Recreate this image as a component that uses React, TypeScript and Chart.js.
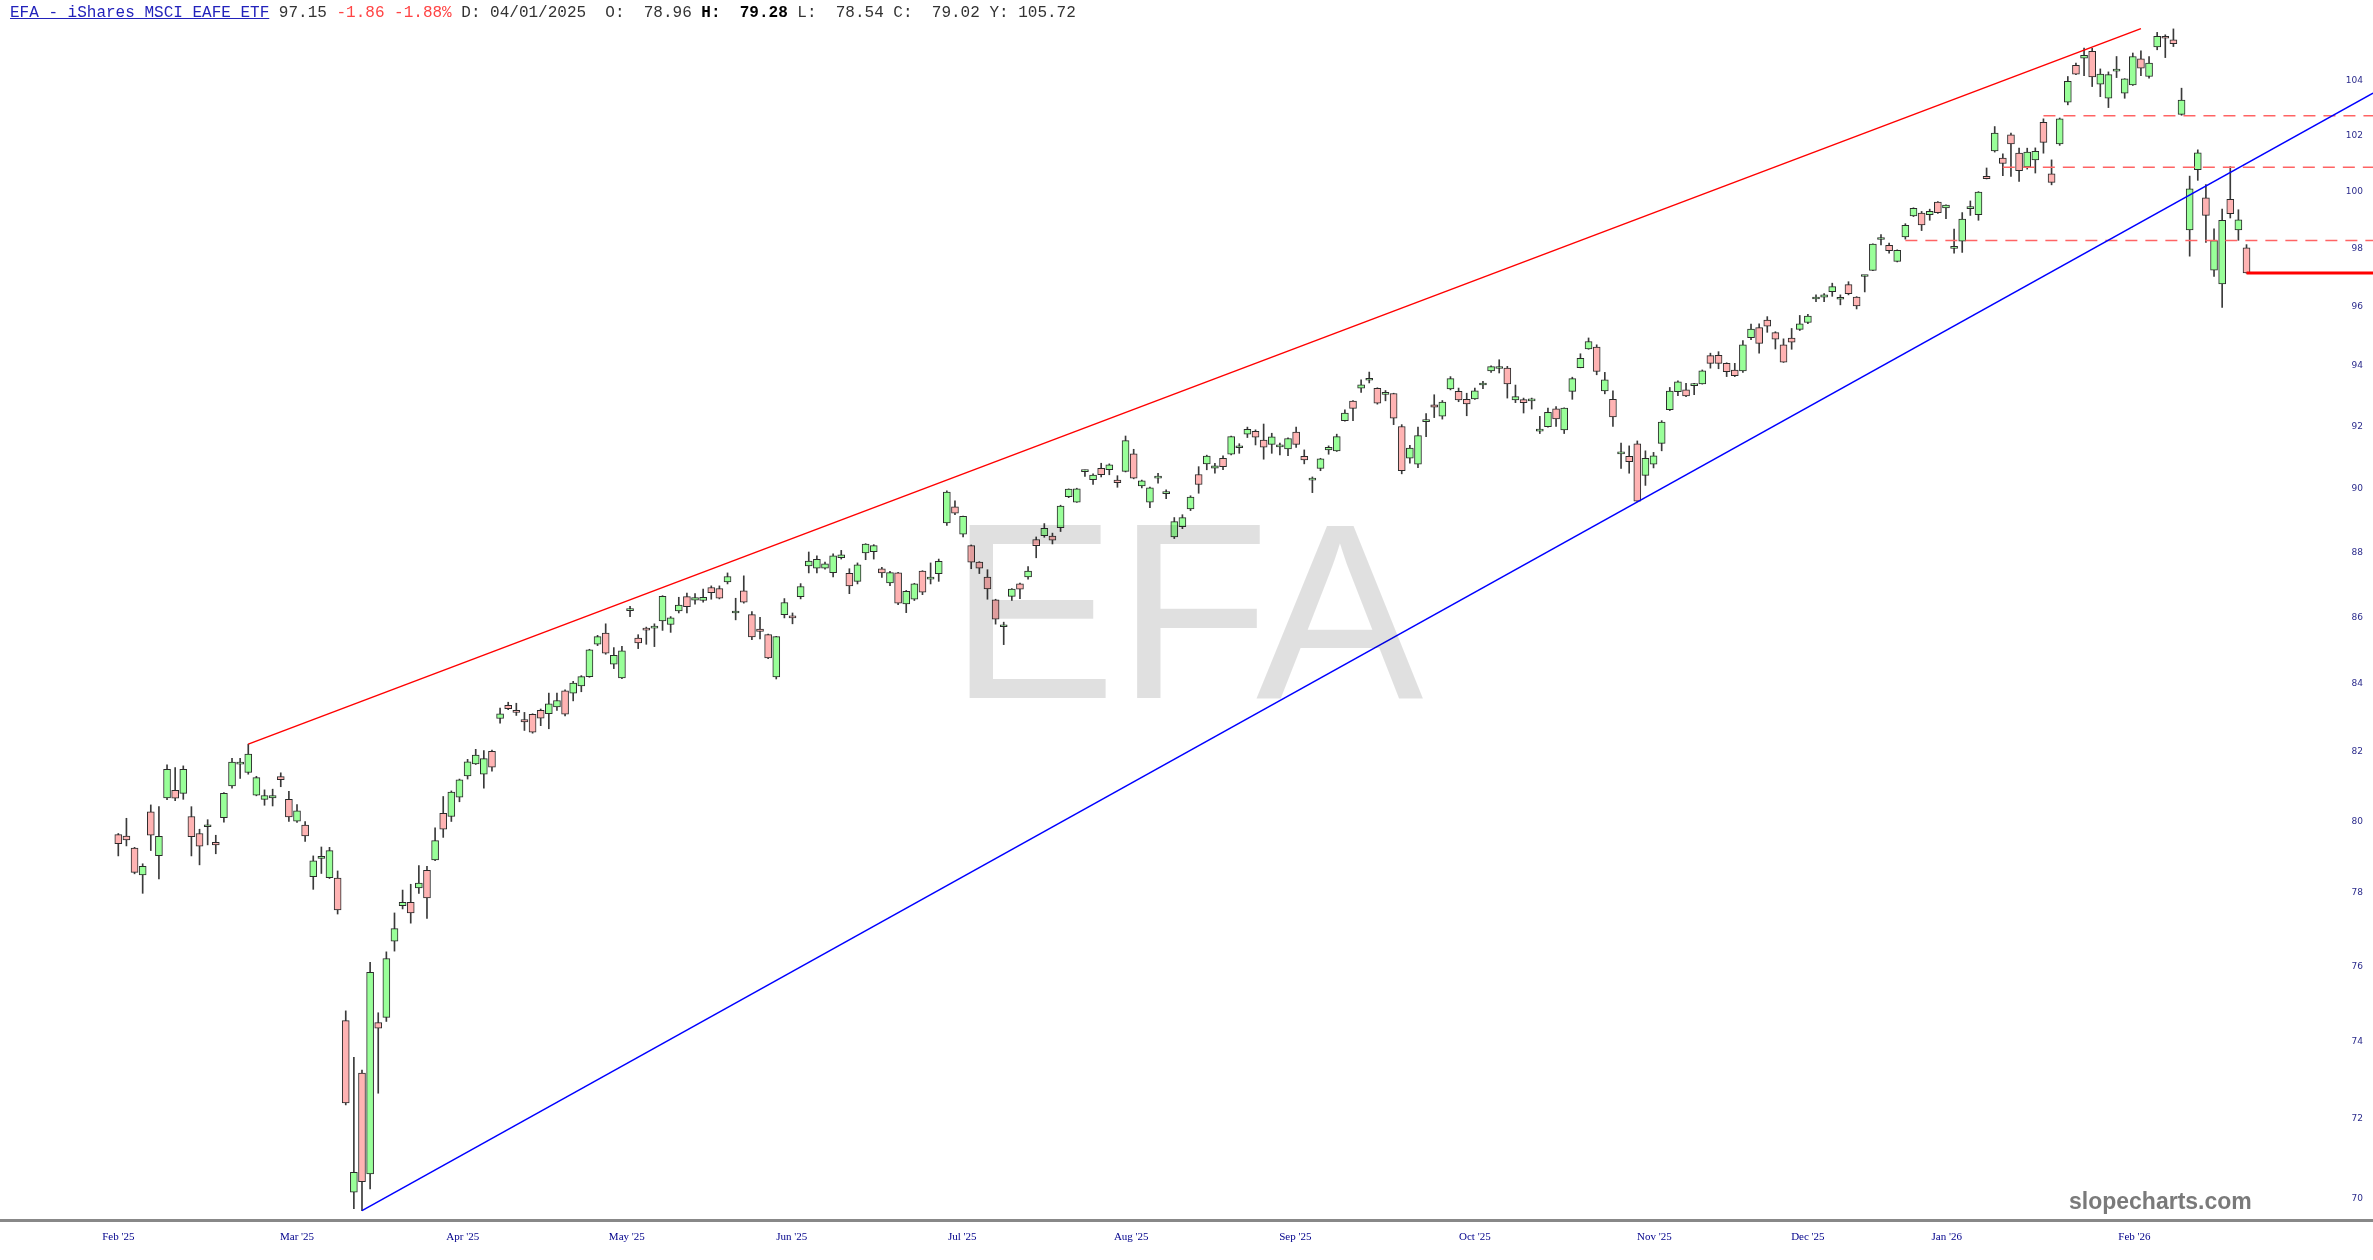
import React, { useEffect, useRef } from 'react';
import { Chart, registerables } from 'chart.js';

Chart.register(...registerables);

// ---- data ----
const opens = [
  79.63, 79.59, 79.25, 78.50, 80.27, 79.04, 80.67, 80.89, 80.80, 80.14,
  79.66, 79.85, 79.41, 80.11, 81.01, 81.64, 81.40, 80.75, 80.63, 80.67,
  81.28, 80.63, 80.01, 79.90, 78.45, 78.96, 78.42, 78.41, 74.55, 70.16,
  73.18, 70.61, 74.50, 74.64, 76.68, 77.65, 77.74, 78.14, 78.63, 78.92,
  80.23, 80.14, 80.69, 81.30, 81.65, 81.35, 82.01, 82.97, 83.36, 83.21,
  82.94, 83.09, 83.21, 83.11, 83.31, 83.79, 83.72, 83.93, 84.21, 85.18,
  85.52, 84.58, 84.17, 86.20, 85.37, 85.66, 85.67, 85.89, 85.78, 86.19,
  86.63, 86.52, 86.51, 86.91, 86.88, 87.08, 86.13, 86.81, 86.08, 85.64,
  85.47, 84.20, 86.08, 86.00, 86.63, 87.58, 87.51, 87.51, 87.37, 87.83,
  87.35, 87.10, 87.98, 88.02, 87.49, 87.05, 87.36, 86.41, 86.55, 87.42,
  87.17, 87.34, 88.92, 89.43, 88.57, 88.21, 87.70, 87.23, 86.53, 85.71,
  86.64, 87.02, 87.24, 88.40, 88.52, 88.51, 88.77, 89.75, 89.58, 90.55,
  90.29, 90.66, 90.61, 90.28, 90.56, 91.12, 90.09, 89.58, 90.34, 89.85,
  88.48, 88.80, 89.36, 90.46, 90.80, 90.66, 90.98, 91.11, 91.32, 91.76,
  91.85, 91.57, 91.43, 91.35, 91.28, 91.83, 91.04, 90.28, 90.65, 91.25,
  91.22, 92.20, 92.84, 93.27, 93.53, 93.26, 93.06, 93.09, 92.01, 90.98,
  90.79, 92.17, 92.72, 92.35, 93.24, 93.16, 92.90, 92.91, 93.37, 93.84,
  93.92, 93.93, 92.88, 92.89, 92.85, 91.86, 92.00, 92.59, 91.90, 93.16,
  93.95, 94.57, 94.63, 93.18, 92.90, 91.12, 91.04, 91.45, 90.43, 90.79,
  91.46, 92.56, 93.15, 93.21, 93.35, 93.41, 94.35, 94.36, 94.09, 93.87,
  93.84, 94.95, 95.29, 95.54, 95.12, 94.71, 94.94, 95.23, 95.46, 96.26,
  96.32, 96.51, 96.25, 96.75, 96.32, 97.03, 97.24, 98.31, 98.11, 97.55,
  98.40, 99.13, 99.23, 99.18, 99.62, 99.41, 98.00, 98.25, 99.39, 99.18,
  100.53, 101.44, 101.18, 102.02, 101.36, 100.87, 101.12, 102.47, 100.62, 101.69,
  103.21, 104.56, 104.83, 105.08, 103.87, 103.35, 104.35, 103.54, 103.84, 104.80,
  104.15, 105.25, 105.63, 105.51, 102.76, 98.64, 100.77, 99.77, 97.25, 96.77,
  99.72, 98.64, 98.02,
];

const highs = [
  79.66, 80.09, 79.27, 78.81, 80.47, 80.42, 81.62, 81.54, 81.59, 80.42,
  79.78, 80.05, 79.61, 80.82, 81.81, 81.81, 82.22, 81.29, 80.90, 80.92,
  81.39, 80.86, 80.48, 80.00, 79.03, 79.28, 79.27, 78.61, 74.81, 73.59,
  73.26, 76.11, 74.76, 76.39, 77.45, 78.08, 78.24, 78.76, 78.74, 79.82,
  80.71, 80.87, 81.21, 81.78, 82.07, 82.03, 82.05, 83.28, 83.45, 83.42,
  83.15, 83.11, 83.25, 83.72, 83.72, 83.82, 84.07, 84.24, 85.03, 85.45,
  85.80, 85.08, 85.12, 86.33, 85.47, 85.70, 85.80, 86.66, 86.02, 86.61,
  86.74, 86.72, 86.86, 86.96, 86.96, 87.36, 86.58, 87.27, 86.17, 86.00,
  85.49, 85.42, 86.57, 86.13, 87.03, 88.01, 87.89, 87.70, 87.95, 88.06,
  87.49, 87.67, 88.27, 88.24, 87.53, 87.41, 87.38, 86.82, 87.04, 87.43,
  87.67, 87.79, 89.94, 89.62, 89.14, 88.23, 87.71, 87.46, 86.55, 85.85,
  86.88, 87.05, 87.56, 88.48, 88.90, 88.60, 89.48, 90.00, 90.02, 90.60,
  90.48, 90.82, 90.80, 90.42, 91.70, 91.27, 90.28, 90.06, 90.50, 89.97,
  89.09, 89.18, 89.78, 90.71, 91.08, 90.82, 91.06, 91.70, 91.45, 91.99,
  91.90, 92.09, 91.79, 91.47, 91.64, 91.99, 91.25, 90.38, 90.98, 91.38,
  91.76, 92.55, 92.86, 93.54, 93.80, 93.28, 93.19, 93.10, 92.07, 91.40,
  91.99, 92.43, 93.05, 92.86, 93.65, 93.27, 93.10, 93.27, 93.49, 94.01,
  94.21, 93.99, 93.37, 92.94, 92.94, 92.34, 92.61, 92.66, 92.62, 93.63,
  94.41, 94.94, 94.71, 93.79, 93.18, 91.47, 91.38, 91.54, 91.22, 91.17,
  92.20, 93.29, 93.51, 93.43, 93.43, 93.87, 94.43, 94.48, 94.11, 94.09,
  94.85, 95.41, 95.42, 95.66, 95.15, 94.91, 95.26, 95.70, 95.74, 96.40,
  96.44, 96.80, 96.40, 96.85, 96.34, 97.07, 98.16, 98.48, 98.18, 97.95,
  98.86, 99.42, 99.29, 99.37, 99.64, 99.52, 98.67, 99.25, 99.66, 99.99,
  100.83, 102.32, 101.34, 102.08, 101.54, 101.54, 101.55, 102.60, 101.12, 102.63,
  104.15, 104.65, 105.20, 105.20, 104.43, 104.32, 104.89, 104.07, 105.02, 105.10,
  104.89, 105.79, 105.70, 105.92, 103.72, 100.54, 101.48, 100.24, 98.68, 99.37,
  100.88, 99.35, 98.13,
];

const lows = [
  79.03, 79.31, 78.53, 77.99, 79.18, 78.39, 80.62, 80.59, 80.63, 79.03,
  78.78, 79.34, 79.09, 79.98, 80.95, 81.23, 81.35, 80.73, 80.46, 80.44,
  80.99, 80.00, 79.97, 79.44, 78.10, 78.54, 78.40, 77.42, 72.36, 69.75,
  69.70, 70.24, 72.66, 74.53, 76.41, 77.56, 77.17, 77.99, 77.30, 78.90,
  79.55, 80.00, 80.56, 81.21, 81.63, 80.95, 81.44, 82.83, 83.23, 83.06,
  82.62, 82.54, 82.76, 82.67, 83.21, 83.05, 83.49, 83.76, 84.19, 85.14,
  84.88, 84.45, 84.15, 86.02, 85.05, 85.18, 85.11, 85.60, 85.54, 86.13,
  86.13, 86.40, 86.46, 86.55, 86.56, 87.02, 85.92, 86.43, 85.32, 85.34,
  84.75, 84.14, 85.98, 85.80, 86.56, 87.36, 87.36, 87.48, 87.24, 87.79,
  86.72, 87.02, 87.77, 87.79, 87.22, 86.97, 86.38, 86.14, 86.51, 86.69,
  87.02, 87.10, 88.84, 89.18, 88.48, 87.49, 87.34, 86.55, 85.79, 85.17,
  86.51, 86.57, 87.17, 87.83, 88.47, 88.26, 88.65, 89.72, 89.57, 90.40,
  90.14, 90.38, 90.45, 90.05, 90.54, 90.32, 90.03, 89.40, 90.18, 89.69,
  88.43, 88.74, 89.31, 89.86, 90.61, 90.50, 90.61, 91.09, 91.14, 91.65,
  91.41, 90.95, 91.14, 91.09, 91.06, 91.33, 90.80, 89.88, 90.58, 91.11,
  91.20, 92.18, 92.20, 93.13, 93.44, 92.74, 92.85, 92.07, 90.48, 90.82,
  90.68, 91.68, 92.30, 92.25, 93.21, 92.82, 92.36, 92.90, 93.25, 93.79,
  93.77, 92.94, 92.79, 92.45, 92.58, 91.78, 91.99, 92.01, 91.78, 92.90,
  93.94, 94.56, 93.71, 93.08, 92.01, 90.65, 90.50, 89.59, 90.11, 90.67,
  91.22, 92.53, 93.02, 92.99, 93.05, 93.40, 93.93, 93.91, 93.65, 93.65,
  93.79, 94.88, 94.43, 95.13, 94.57, 94.12, 94.56, 95.19, 95.42, 96.17,
  96.17, 96.35, 96.06, 96.40, 95.92, 96.50, 97.23, 98.12, 97.83, 97.53,
  98.32, 99.11, 98.62, 98.98, 99.22, 99.04, 97.83, 97.86, 99.15, 98.98,
  100.44, 101.40, 100.56, 100.53, 100.35, 100.79, 100.65, 101.36, 100.23, 101.64,
  103.11, 104.22, 104.18, 103.78, 103.41, 103.01, 104.11, 103.35, 103.82, 104.18,
  104.09, 105.14, 104.85, 105.26, 102.73, 97.73, 100.39, 98.21, 97.03, 95.97,
  99.06, 98.28, 97.14,
];

const closes = [
  79.37, 79.48, 78.57, 78.74, 79.61, 79.58, 81.49, 80.66, 81.49, 79.57,
  79.30, 79.87, 79.34, 80.80, 81.70, 81.70, 81.93, 81.25, 80.74, 80.74,
  81.19, 80.13, 80.30, 79.59, 78.89, 79.02, 79.18, 77.53, 72.41, 70.65,
  70.42, 75.84, 74.35, 76.21, 77.02, 77.74, 77.45, 78.27, 77.86, 79.46,
  79.78, 80.84, 81.19, 81.71, 81.90, 81.80, 81.55, 83.11, 83.26, 83.15,
  82.87, 82.57, 82.98, 83.40, 83.50, 83.10, 84.02, 84.21, 85.01, 85.41,
  84.91, 84.85, 84.98, 86.22, 85.22, 85.61, 85.73, 86.64, 85.98, 86.37,
  86.32, 86.60, 86.61, 86.75, 86.58, 87.25, 86.15, 86.46, 85.40, 85.57,
  84.77, 85.41, 86.45, 85.98, 86.94, 87.73, 87.78, 87.64, 87.89, 87.92,
  86.96, 87.61, 88.26, 88.21, 87.36, 87.37, 86.43, 86.79, 87.02, 86.77,
  87.23, 87.72, 89.90, 89.23, 89.13, 87.69, 87.51, 86.87, 85.94, 85.73,
  86.86, 86.86, 87.42, 88.21, 88.75, 88.38, 89.45, 89.99, 90.00, 90.57,
  90.44, 90.45, 90.77, 90.20, 91.55, 90.34, 90.26, 90.03, 90.36, 89.87,
  88.96, 89.09, 89.74, 90.14, 91.05, 90.74, 90.71, 91.68, 91.34, 91.92,
  91.66, 91.34, 91.67, 91.37, 91.62, 91.43, 90.93, 90.30, 90.96, 91.33,
  91.68, 92.45, 92.60, 93.38, 93.59, 92.77, 93.08, 92.28, 90.58, 91.31,
  91.71, 92.19, 92.64, 92.81, 93.58, 92.88, 92.75, 93.18, 93.39, 93.98,
  93.94, 93.41, 92.99, 92.79, 92.87, 91.88, 92.47, 92.26, 92.61, 93.58,
  94.26, 94.82, 93.82, 93.54, 92.32, 91.14, 90.87, 89.61, 90.98, 91.06,
  92.15, 93.17, 93.48, 93.01, 93.37, 93.84, 94.09, 94.09, 93.81, 93.68,
  94.71, 95.24, 94.76, 95.34, 94.90, 94.13, 94.80, 95.42, 95.68, 96.28,
  96.40, 96.68, 96.27, 96.44, 96.02, 97.05, 98.15, 98.33, 97.92, 97.93,
  98.80, 99.40, 98.82, 99.29, 99.25, 99.51, 98.02, 99.02, 99.41, 99.97,
  100.45, 102.08, 100.99, 101.69, 100.73, 101.40, 101.43, 101.75, 100.32, 102.60,
  103.97, 104.24, 104.93, 104.13, 104.24, 104.22, 104.37, 104.06, 104.89, 104.46,
  104.65, 105.64, 105.57, 105.37, 103.28, 100.09, 101.37, 99.15, 98.27, 98.98,
  99.21, 99.00, 97.15,
];

const monthLabels = ["Feb '25", "Mar '25", "Apr '25", "May '25", "Jun '25", "Jul '25", "Aug '25",
  "Sep '25", "Oct '25", "Nov '25", "Dec '25", "Jan '26", "Feb '26"];
const monthTickIdx = [0, 22.0, 42.4, 62.6, 82.9, 103.9, 124.7, 144.9, 167.0, 189.1, 208.0, 225.1, 248.2];
const priceTicks = [70, 72, 74, 76, 78, 80, 82, 84, 86, 88, 90, 92, 94, 96, 98, 100, 102, 104];

// drawn lines: [index, price] end points
const upperTrendIdx = [16, 249];
const upperTrendPrice = [82.22, 105.93];
const lowerTrendIdx = [30, 277.57];
const lowerTrendPrice = [69.70, 103.54];
const levelPrices = [102.71, 100.86, 98.27];
const levelStartIdx = [237, 232, 220];
const lastCloseIdx = 262;
const lastClosePrice = 97.15;

// axis bounds
const X_MIN = -14.564;
const X_MAX = 277.57;
const Y_MIN = 69.47;
const Y_MAX = 107.01;

export default function App() {
  const canvasRef = useRef<HTMLCanvasElement | null>(null);

  useEffect(() => {
    const canvas = canvasRef.current;
    if (!canvas) return;
    const idx = opens.map((_, i) => i);
    const bodyData = idx.map((i) => ({ x: i, y: [opens[i], closes[i]] }));
    const wickData = idx.map((i) => ({ x: i, y: [lows[i], highs[i]] }));
    const bodyColors = idx.map((i) => (closes[i] >= opens[i] ? '#99ff99' : '#ffb3b3'));

    const lineDs = (pts: { x: number; y: number }[], color: string, width: number, dash: number[] = []) => ({
      type: 'line' as const,
      data: pts,
      borderColor: color,
      borderWidth: width,
      borderDash: dash,
      pointRadius: 0,
      fill: false,
      tension: 0,
      order: 0,
    });

    const datasets: any[] = [
      {
        type: 'bar',
        data: wickData,
        backgroundColor: '#3a3a3a',
        borderWidth: 0,
        barThickness: 1,
        grouped: false,
        order: 2,
      },
      {
        type: 'bar',
        data: bodyData,
        backgroundColor: bodyColors,
        borderColor: '#2a2a2a',
        borderWidth: 1,
        borderSkipped: false,
        barThickness: 7,
        minBarLength: 2,
        grouped: false,
        order: 1,
      },
      lineDs(upperTrendIdx.map((x, k) => ({ x, y: upperTrendPrice[k] })), '#ff0000', 1.5),
      lineDs(lowerTrendIdx.map((x, k) => ({ x, y: lowerTrendPrice[k] })), '#0000ff', 1.5),
      ...levelPrices.map((p, k) =>
        lineDs([{ x: levelStartIdx[k], y: p }, { x: X_MAX, y: p }], '#ff6464', 1.5, [12, 8])
      ),
      lineDs([{ x: lastCloseIdx, y: lastClosePrice }, { x: X_MAX, y: lastClosePrice }], '#ff0000', 3),
    ];

    const chart = new Chart(canvas, {
      type: 'bar',
      data: { datasets },
      options: {
        responsive: false,
        animation: false,
        events: [],
        layout: { padding: 0 },
        plugins: { legend: { display: false }, tooltip: { enabled: false } },
        scales: {
          x: {
            type: 'linear',
            min: X_MIN,
            max: X_MAX,
            offset: false,
            grid: { display: false, drawTicks: false },
            border: { display: true, color: '#888888', width: 3 },
            afterBuildTicks: (s: any) => {
              s.ticks = monthTickIdx.map((v) => ({ value: v }));
            },
            afterFit: (s: any) => {
              s.height = 40;
              s.paddingLeft = 0;
              s.paddingRight = 0;
            },
            ticks: {
              autoSkip: false,
              maxRotation: 0,
              minRotation: 0,
              padding: 11,
              color: '#00008b',
              font: { family: 'Liberation Serif', size: 11 },
              callback: (_v: any, i: number) => monthLabels[i],
            },
          },
          y: {
            type: 'logarithmic',
            position: 'right',
            min: Y_MIN,
            max: Y_MAX,
            beginAtZero: false,
            grid: { display: false, drawTicks: false },
            border: { display: false },
            afterBuildTicks: (s: any) => {
              s.ticks = priceTicks.map((v) => ({ value: v }));
            },
            afterFit: (s: any) => {
              s.width = 0;
              s.paddingTop = 0;
              s.paddingBottom = 0;
            },
            ticks: {
              mirror: true,
              padding: -10,
              autoSkip: false,
              color: '#2b2b8c',
              font: { family: 'DejaVu Sans', size: 9 },
              callback: (v: any) => String(v),
            },
          },
        },
      } as any,
    });
    return () => chart.destroy();
  }, []);

  const mono = "'Courier New', 'Liberation Mono', monospace";
  return (
    <div style={{ position: 'absolute', left: 0, top: 0, width: 2373, height: 1260, overflow: 'hidden', background: '#ffffff' }}>
      <canvas ref={canvasRef} width={2373} height={1260} style={{ position: 'absolute', left: 0, top: 0 }} />
      <div
        style={{
          position: 'absolute', left: 949, top: 486, fontFamily: "'Liberation Sans', Arial, sans-serif",
          fontSize: 251, lineHeight: '251px', color: 'rgba(0,0,0,0.12)', whiteSpace: 'pre', pointerEvents: 'none',
        }}
      >
        EFA
      </div>
      <div
        style={{
          position: 'absolute', left: 10, top: 1, fontFamily: mono, fontSize: 16, lineHeight: '24px',
          color: '#333333', whiteSpace: 'pre',
        }}
      >
        <span style={{ color: '#2222bb', textDecoration: 'underline' }}>EFA - iShares MSCI EAFE ETF</span>
        <span> 97.15 </span>
        <span style={{ color: '#ff4444' }}>-1.86 -1.88%</span>
        <span> D: 04/01/2025  O:  78.96 </span>
        <span style={{ fontWeight: 'bold', color: '#000' }}>H:  79.28</span>
        <span> L:  78.54 C:  79.02 Y: 105.72</span>
      </div>
      <div
        style={{
          position: 'absolute', left: 2069, top: 1190, fontFamily: "'Liberation Sans', Arial, sans-serif",
          fontWeight: 'bold', fontSize: 23, lineHeight: '23px', color: '#7a7a7a', whiteSpace: 'pre',
        }}
      >
        slopecharts.com
      </div>
    </div>
  );
}
